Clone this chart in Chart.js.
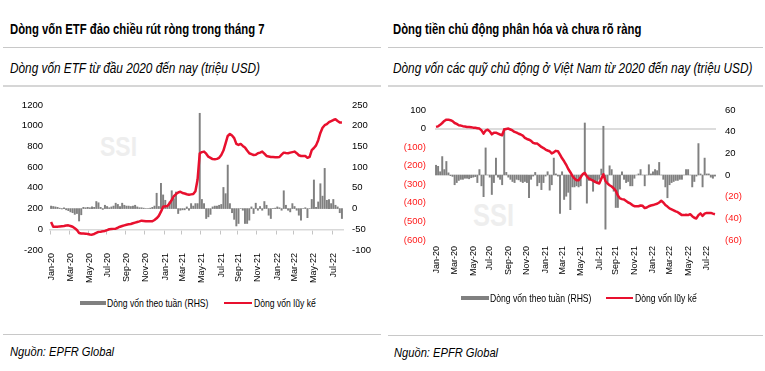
<!DOCTYPE html>
<html lang="vi">
<head>
<meta charset="utf-8">
<title>Dòng vốn ETF và quỹ chủ động</title>
<script src="https://cdn.jsdelivr.net/npm/chart.js@4.4.1/dist/chart.umd.min.js"></script>
<style>
    body { margin: 0; background: #fff; color: #000; font-family: 'Liberation Sans', Arial, sans-serif; }
    #page { position: relative; width: 765px; height: 371px; overflow: hidden; }
    /* chữ hẹp kiểu Arial Narrow */
    .narrow { transform: scaleX(0.82); transform-origin: left center; }
    .abs { position: absolute; white-space: nowrap; line-height: 16px; }
    .title { font-weight: bold; font-size: 13.8px; }
    .sub { font-style: italic; font-size: 14.4px; }
    .src { font-style: italic; font-size: 13.6px; }
    .rule { position: absolute; height: 1px; background: #c8c8c8; }
    .rule.thick { height: 2px; background: #d6d6d6; }
    .mark { position: absolute; font-weight: bold; color: #eeeeee; line-height: 1; }
    .legend { position: absolute; font-size: 10.5px; line-height: 12px; white-space: nowrap; }
    .sw-bar { position: absolute; height: 4px; background: #808080; }
    .sw-line { position: absolute; height: 2px; background: #e8102e; }
    canvas { position: absolute; }
</style>
</head>
<body>
<div id="page">
    <!-- khung trái -->
    <div class="abs title narrow" style="left:10px; top:22px;">Dòng vốn ETF đảo chiều rút ròng trong tháng 7</div>
    <div class="rule" style="left:3px; top:47px; width:378px;"></div>
    <div class="abs sub narrow" style="left:10px; top:60px;">Dòng vốn ETF từ đầu 2020 đến nay (triệu USD)</div>
    <div class="rule thick" style="left:3px; top:85px; width:378px;"></div>
    <div class="mark narrow" style="left:100px; top:133px; font-size:28px;">SSI</div>
    <canvas id="etfChart" width="383" height="205" style="left:0; top:90px;"></canvas>
    <div class="sw-bar" style="left:80px; top:301px; width:26px;"></div>
    <div class="legend narrow" style="left:107px; top:297px;">Dòng vốn theo tuần (RHS)</div>
    <div class="sw-line" style="left:224px; top:302px; width:28px;"></div>
    <div class="legend narrow" style="left:254px; top:297px;">Dòng vốn lũy kế</div>
    <div class="rule" style="left:3px; top:334px; width:378px;"></div>
    <div class="abs src narrow" style="left:10px; top:344px;">Nguồn: EPFR Global</div>

    <!-- khung phải -->
    <div class="abs title narrow" style="left:393px; top:22px;">Dòng tiền chủ động phân hóa và chưa rõ ràng</div>
    <div class="rule" style="left:388px; top:47px; width:375px;"></div>
    <div class="abs sub narrow" style="left:393px; top:60px;">Dòng vốn các quỹ chủ động ở Việt Nam từ 2020 đến nay (triệu USD)</div>
    <div class="rule thick" style="left:388px; top:85px; width:375px;"></div>
    <div class="mark narrow" style="left:473px; top:200px; font-size:31px;">SSI</div>
    <canvas id="activeChart" width="382" height="205" style="left:383px; top:90px;"></canvas>
    <div class="sw-bar" style="left:461px; top:296px; width:28px;"></div>
    <div class="legend narrow" style="left:490px; top:292px;">Dòng vốn theo tuần (RHS)</div>
    <div class="sw-line" style="left:606px; top:297px; width:27px;"></div>
    <div class="legend narrow" style="left:635px; top:292px;">Dòng vốn lũy kế</div>
    <div class="rule" style="left:388px; top:335px; width:375px;"></div>
    <div class="abs src narrow" style="left:394px; top:345px;">Nguồn: EPFR Global</div>
</div>

<script>
// Nhãn trục thời gian (mỗi 2 tháng)
const tickLabels = ['Jan-20', 'Mar-20', 'May-20', 'Jul-20', 'Sep-20', 'Nov-20',
    'Jan-21', 'Mar-21', 'May-21', 'Jul-21', 'Sep-21', 'Nov-21',
    'Jan-22', 'Mar-22', 'May-22', 'Jul-22'];
const monthNames = ['Jan', 'Feb', 'Mar', 'Apr', 'May', 'Jun', 'Jul', 'Aug', 'Sep', 'Oct', 'Nov', 'Dec'];

// ETF: dòng vốn theo tuần (RHS) và lũy kế, từ tuần 01/01/2020
const etfWeekly = [
    6, 5, 4, 3, 1, -1, 2, -3, -5, -8,
    -10, -14, -12, -30, -15, 3, 2, 3, 2, 4,
    3, 17, 14, 3, -2, 8, 5, 2, 4, 6,
    13, 10, 5, 13, 8, 6, 6, 5, 6, 8,
    4, 2, 2, 1, 0, 0, 1, 3, 6, 37,
    5, 61, 33, 20, 4, 16, 43, 24, 40, -12,
    -4, -3, -3, 4, -4, 12, 6, 12, 12, 230,
    22, 12, -24, -20, -14, 4, 6, 6, 8, 10,
    51, 36, 105, 12, -10, -26, -42, -36, 0, -4,
    -36, -36, -28, 4, -12, 13, -4, 5, -4, 17,
    8, -16, -24, 0, 1, 4, 2, -4, 43, 8,
    -4, -8, 12, 5, -4, -16, -28, 0, 2, -22,
    0, 22, 69, 3, 16, 60, 30, 97, 20, 22,
    12, 22, 8, 4, -10, -24
];
const etfCumulative = [
    70, 25, 25, 25, 28, 30, 32, 36, 38, 32,
    25, 10, -7, -35, -40, -41, -42, -45, -50, -52,
    -45, -35, -25, -23, -20, -16, -8, 0, 2, 4,
    6, 15, 25, 32, 38, 44, 48, 51, 58, 64,
    70, 76, 83, 80, 77, 77, 77, 77, 90, 106,
    130, 170, 218, 222, 225, 250, 283, 320, 340, 355,
    363, 350, 345, 338, 334, 337, 340, 367, 480, 734,
    745, 750, 730, 701, 690, 678, 676, 680, 690, 717,
    760, 830, 901, 920, 905, 880, 825, 814, 824, 805,
    790, 760, 734, 725, 717, 720, 734, 740, 750, 730,
    708, 703, 698, 698, 696, 696, 698, 720, 740, 736,
    734, 740, 745, 750, 735, 715, 708, 708, 708, 690,
    700, 765, 785, 810, 860, 930, 980, 1005, 1015, 1035,
    1045, 1055, 1062, 1045, 1030, 1030
];

// Quỹ chủ động: dòng vốn theo tuần (RHS) và lũy kế
const activeWeekly = [
    9, 8, 3, 17, 5, 12.5, 2, -0.6, -1.3, -9,
    -7, -5, -4, -4, -3, -3, -3.5, -2.5, -2, -1.5,
    -7, 5, -10, -20, 25, 0, -2, -18, -7, 15.6,
    -2, -4, -9, 43, 2.4, -2, -4, -6, -7, -4,
    -4.5, -6, -7, -6, -7, -21, -4, -1, 2.4, -10,
    -7, -13.5, -7, -1, 3, -14, -9, 15.6, 1, -1,
    -35.5, 3, -22.6, -19.6, -16, -32, -11, -11, -10, -11,
    -10, 0, 48, -26, -5, -4, -15, -7, -7, -4,
    5.5, 45, -50, -7, 8.5, 5, -15, -30, -30, -13,
    3, -4, -7, -6, -10, -10, -3, 0, 1, 5,
    0, -10, 0, 9.5, 1, 3, 5, 4, 11.6, 0,
    -4, -11, -21, -9, -7, -6, -5, -5, -4, -4,
    0, 5, 5, 0, -11, -6, -1, 29, 1, -11,
    15.6, 1, 1, -2, -3, -1
];
const activeCumulative = [
    9, 12, 20, 30, 41, 48, 48, 45, 40, 30,
    25, 18, 16, 13, 11, 9, 9, 7, 5, 4,
    2, 0, -10, -27, -11, -6, -15, -31, -22, -22,
    -27, -32, -36, -5, -2, 0, -5, -10, -18, -22,
    -28, -32, -38, -50, -56, -60, -66, -77, -80, -81,
    -90, -99, -105, -113, -118, -122, -134, -128, -120, -122,
    -140, -160, -176, -195, -218, -235, -255, -269, -278, -278,
    -262, -245, -239, -258, -269, -275, -280, -287, -292, -296,
    -270, -246, -282, -296, -305, -312, -322, -335, -360, -376,
    -380, -382, -390, -398, -403, -412, -418, -418, -418, -414,
    -416, -428, -425, -418, -414, -412, -408, -405, -398, -389,
    -398, -412, -420, -430, -435, -440, -446, -450, -458, -466,
    -466, -464, -466, -461, -472, -480, -484, -466, -457, -470,
    -458, -454, -454, -454, -458, -461
];

const RED = '#e8102e';
const GRAY = '#808080';
const NEG_RED = '#ff1a1a';

Chart.defaults.font.family = "'Liberation Sans', Arial, sans-serif";
Chart.defaults.font.size = 9;
Chart.defaults.color = '#000';

// tuần bắt đầu 01/01/2020, cách nhau 7 ngày
const weekDates = [];
for (let i = 0; i < etfWeekly.length; i++) {
    weekDates.push(new Date(2020, 0, 1 + 7 * i));
}
const weekKeys = weekDates.map(d => d.getFullYear() + '-' + (d.getMonth() + 1) + '-' + d.getDate());

function monthLabel(i) {
    const d = weekDates[i];
    if (!d || d.getDate() > 7) return '';
    const name = monthNames[d.getMonth()] + '-' + String(d.getFullYear()).slice(2);
    return tickLabels.includes(name) ? name : '';
}

function accounting(v) {
    return v < 0 ? '(' + Math.abs(v) + ')' : String(v);
}

function flowDatasets(weekly, cumulative) {
    return [
        {
            type: 'line',
            label: 'Dòng vốn lũy kế',
            data: cumulative,
            yAxisID: 'y',
            borderColor: RED,
            borderWidth: 2.5,
            borderJoinStyle: 'round',
            pointRadius: 0,
            tension: 0,
            order: 0
        },
        {
            type: 'bar',
            label: 'Dòng vốn theo tuần (RHS)',
            data: weekly,
            yAxisID: 'y2',
            backgroundColor: GRAY,
            barThickness: 1.3,
            order: 1
        }
    ];
}

function bottomAxis(height, pad) {
    return {
        type: 'category',
        offset: true,
        grid: { display: false, drawTicks: false },
        border: { display: false },
        ticks: {
            autoSkip: false,
            minRotation: 90,
            maxRotation: 90,
            padding: pad,
            callback: (value, index) => monthLabel(index)
        },
        afterFit: scale => { scale.height = height; }
    };
}

// Biểu đồ trái: ETF
new Chart(document.getElementById('etfChart').getContext('2d'), {
    type: 'bar',
    data: { labels: weekKeys, datasets: flowDatasets(etfWeekly, etfCumulative) },
    options: {
        responsive: false,
        animation: false,
        layout: { padding: { top: 15, left: 0, right: 0, bottom: 0 } },
        plugins: { legend: { display: false }, tooltip: { enabled: false } },
        scales: {
            x: bottomAxis(45, 3),
            xz: {
                axis: 'x',
                type: 'category',
                position: { y: 0 },
                offset: true,
                ticks: { display: false },
                grid: {
                    display: true,
                    offset: true,
                    drawOnChartArea: false,
                    drawTicks: true,
                    tickLength: 4,
                    tickColor: c => monthLabel(c.index) ? '#c4c4c4' : 'rgba(0,0,0,0)'
                },
                border: { display: true, color: '#d9d9d9', width: 1.5 }
            },
            y: {
                type: 'linear',
                position: 'left',
                min: -200,
                max: 1200,
                ticks: { stepSize: 200, padding: 7, font: { size: 9.5 }, callback: v => String(v) },
                grid: { display: false, drawTicks: false },
                border: { display: false },
                afterFit: scale => { scale.width = 50; }
            },
            y2: {
                type: 'linear',
                position: 'right',
                min: -100,
                max: 250,
                ticks: { stepSize: 50, padding: 9, font: { size: 9.5 }, callback: v => String(v) },
                grid: { display: false, drawTicks: false },
                border: { display: false },
                afterFit: scale => { scale.width = 40; }
            }
        }
    }
});

// Biểu đồ phải: quỹ chủ động
new Chart(document.getElementById('activeChart').getContext('2d'), {
    type: 'bar',
    data: { labels: weekKeys, datasets: flowDatasets(activeWeekly, activeCumulative) },
    options: {
        responsive: false,
        animation: false,
        layout: { padding: { top: 20, left: 0, right: 0, bottom: 0 } },
        plugins: { legend: { display: false }, tooltip: { enabled: false } },
        scales: {
            x: bottomAxis(55, 6),
            y: {
                type: 'linear',
                position: 'left',
                min: -600,
                max: 100,
                ticks: {
                    stepSize: 100,
                    padding: 9,
                    font: { size: 9.5 },
                    color: c => c.tick.value < 0 ? NEG_RED : '#000',
                    callback: v => accounting(v)
                },
                grid: {
                    display: true,
                    drawTicks: false,
                    lineWidth: 2,
                    color: c => (c.tick && c.tick.value === 0) ? '#dcdcdc' : 'rgba(0,0,0,0)'
                },
                border: { display: false },
                afterFit: scale => { scale.width = 52; }
            },
            y2: {
                type: 'linear',
                position: 'right',
                min: -60,
                max: 60,
                ticks: {
                    stepSize: 20,
                    padding: 9,
                    font: { size: 9.5 },
                    color: c => c.tick.value < 0 ? NEG_RED : '#000',
                    callback: v => accounting(v)
                },
                grid: { display: false, drawTicks: false },
                border: { display: false },
                afterFit: scale => { scale.width = 49; }
            }
        }
    }
});
</script>
</body>
</html>
